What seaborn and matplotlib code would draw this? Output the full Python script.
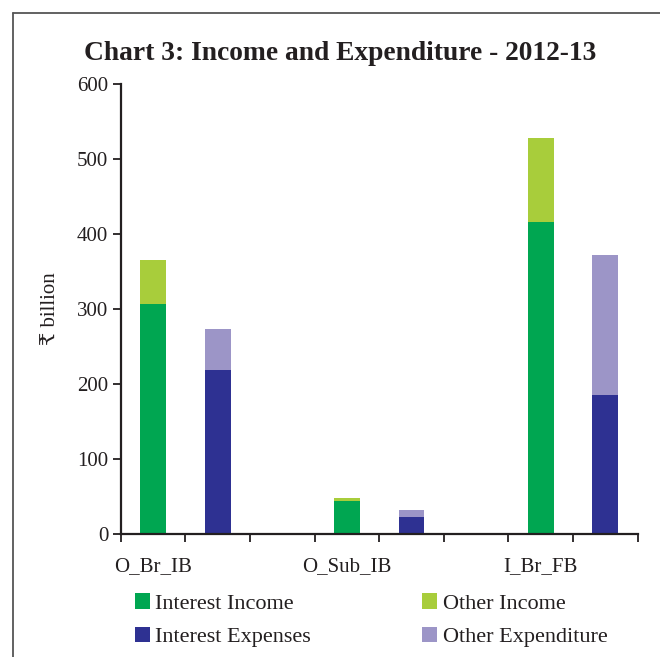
import matplotlib
matplotlib.use('Agg')
import matplotlib.pyplot as plt
from matplotlib.lines import Line2D
import numpy as np
import pandas as pd
import seaborn as sns

# values, in ₹ billion
groups = ['O_Br_IB', 'O_Sub_IB', 'I_Br_FB']
interest_income = [307, 44, 416]
other_income = [58, 4, 112]
interest_expenses = [219, 23, 186]
other_expenditure = [54, 10, 186]

sns.set_theme(style='white')
plt.rcParams['font.family'] = ['Liberation Serif', 'DejaVu Serif', 'DejaVu Sans']

# two bars per group and an empty slot between groups
slots = []
for g in groups:
    slots += [g + ' inc', g + ' exp', g + ' gap']
slots = slots[:-1]

df = pd.DataFrame({
    'group': groups,
    'interest_income': interest_income,
    'other_income': other_income,
    'interest_expenses': interest_expenses,
    'other_expenditure': other_expenditure,
})
df['income_total'] = df['interest_income'] + df['other_income']
df['exp_total'] = df['interest_expenses'] + df['other_expenditure']
df['inc_slot'] = df['group'] + ' inc'
df['exp_slot'] = df['group'] + ' exp'

fig = plt.figure(figsize=(6.6, 6.57), dpi=100)
ax = fig.add_axes([0.183, 0.1865, 0.783, 0.6864])

kw = dict(order=slots, width=0.4, linewidth=0, saturation=1, ax=ax)
sns.barplot(data=df, x='inc_slot', y='income_total', color='#a8cd3b', label='Other Income', **kw)
sns.barplot(data=df, x='inc_slot', y='interest_income', color='#00a651', label='Interest Income', **kw)
sns.barplot(data=df, x='exp_slot', y='exp_total', color='#9c95c7', label='Other Expenditure', **kw)
sns.barplot(data=df, x='exp_slot', y='interest_expenses', color='#2e3192', label='Interest Expenses', **kw)
if ax.get_legend() is not None:
    ax.get_legend().remove()

ax.set_xlim(-0.5, len(slots) - 0.5)
ax.set_ylim(0, 600)
ax.set_yticks(np.arange(0, 601, 100))

# group labels under the income bar, tick marks on slot edges
ax.set_xticks([slots.index(g + ' inc') for g in groups])
ax.set_xticklabels(groups)
ax.set_xticks(np.arange(-0.5, len(slots), 1.0), minor=True)
ax.tick_params(axis='x', which='major', length=0, pad=16, labelsize=15, colors='#231f20')
ax.tick_params(axis='x', which='minor', bottom=True, length=6, width=1.3, direction='out', color='#231f20')
ax.tick_params(axis='y', left=True, length=6, width=1.3, direction='out', labelsize=15,
               color='#231f20', labelcolor='#231f20', pad=3)

ax.set_xlabel('')
ax.set_ylabel('₹ billion', fontsize=15, color='#231f20', labelpad=12)

for s in ['top', 'right']:
    ax.spines[s].set_visible(False)
for s in ['left', 'bottom']:
    ax.spines[s].set_color('#231f20')
    ax.spines[s].set_linewidth(1.6)

fig.text(0.516, 0.918, 'Chart 3: Income and Expenditure - 2012-13', ha='center', va='center',
         fontsize=19.8, fontweight='bold', color='#231f20')

handles, labels = ax.get_legend_handles_labels()
lookup = dict(zip(labels, handles))
order = ['Interest Income', 'Interest Expenses', 'Other Income', 'Other Expenditure']
fig.legend([lookup[l] for l in order], order, ncol=2, loc='upper left',
           bbox_to_anchor=(0.204, 0.097), frameon=False, fontsize=16,
           handlelength=0.68, handleheight=0.68, handletextpad=0.25,
           columnspacing=5.0, labelspacing=0.6, borderpad=0, borderaxespad=0,
           labelcolor='#231f20')

# outer frame on left and top
fig.add_artist(Line2D([0.019, 0.019], [0, 0.98], color='#555555', lw=1.3))
fig.add_artist(Line2D([0.019, 1.0], [0.98, 0.98], color='#555555', lw=1.3))

fig.savefig('out.png', dpi=100)
